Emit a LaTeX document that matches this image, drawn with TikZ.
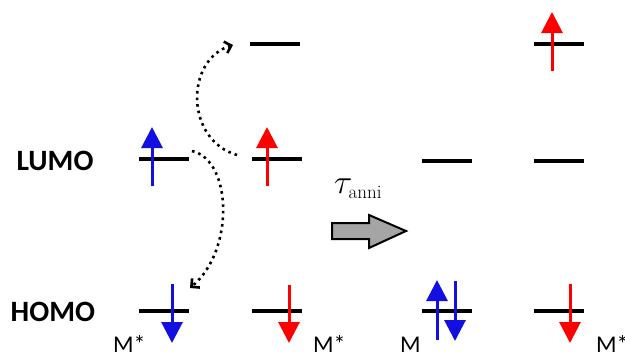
\documentclass[tikz,border=0pt]{standalone}
\usepackage{fix-cm}
\usepackage[no-math]{fontspec}
\setmainfont{Carlito}
\newfontfamily\lmroman{Latin Modern Roman}
\usetikzlibrary{arrows.meta}
\definecolor{spinblue}{RGB}{20,15,225}
\definecolor{spinred}{RGB}{255,0,0}
\definecolor{blockgray}{RGB}{165,165,165}
\begin{document}
\begin{tikzpicture}[x=1pt,y=-1pt,
  level/.style={rectangle,fill=black,minimum width=50pt,minimum height=3.5pt,inner sep=0pt},
  spin/.style={line width=3pt,-{Triangle[width=21pt,length=21pt]}},
  bluespin/.style={spin,draw=spinblue,fill=spinblue},
  redspin/.style={spin,draw=spinred,fill=spinred},
  transfer/.style={line width=2.6pt,dash pattern=on 2.6pt off 4pt,-{Straight Barb[length=6pt,width=12pt]}},
  orblabel/.style={anchor=base west,inner sep=0pt,font=\fontsize{29.5}{31}\selectfont\bfseries},
  molabel/.style={anchor=base west,inner sep=0pt,font=\fontsize{24}{26}\selectfont}]
\useasboundingbox (0,0) rectangle (625,354);
% levels
\node[level] (aL) at (164,159) {};
\node[level] (aH) at (164,311) {};
\node[level] (bU) at (275,44) {};
\node[level] (bL) at (277,159) {};
\node[level] (bH) at (277,311) {};
\node[level] (cL) at (447,161) {};
\node[level] (cH) at (447,311) {};
\node[level] (dU) at (559,44) {};
\node[level] (dL) at (559,161) {};
\node[level] (dH) at (559,311) {};
% labels
\node[orblabel] (lumo) at (16.5,170) {LUMO};
\node[orblabel] (homo) at (10.5,321) {HOMO};
\node[molabel] (m1) at (113,352) {M*};
\node[molabel] (m2) at (313,352) {M*};
\node[molabel] (m3) at (400,352) {M};
\node[molabel] (m4) at (596,352) {M*};
\node[anchor=base west,inner sep=0pt,font=\fontsize{34}{36}\selectfont] (tau) at (334,193)
  {$\tau_{\hbox{\fontsize{19}{20}\selectfont\lmroman anni}}$};
% spins
\draw[bluespin] (152,186) -- (152,127);
\draw[redspin] (267,186) -- (267,127);
\draw[bluespin] (172,284) -- (172,343);
\draw[redspin] (289,285) -- (289,343);
\draw[bluespin] (437,340) -- (437,280);
\draw[bluespin] (455,281) -- (455,341);
\draw[redspin] (570,284) -- (570,343);
\draw[redspin] (552,71) -- (552,12);
% transfers
\coordinate (s1) at (237,155);
\coordinate (e1) at (233,45);
\coordinate (s2) at (192,151);
\coordinate (e2) at (190,288);
\draw[transfer] (s1) .. controls (185,140) and (185,60) .. (e1);
\draw[transfer] (s2) .. controls (232,160) and (235,250) .. (e2);
% block arrow
\draw[line width=2pt,fill=blockgray,line join=miter]
  (332,223) -- (369,223) -- (369,215) -- (406,231) -- (369,248) -- (369,239) -- (332,239) -- cycle;
\end{tikzpicture}
\end{document}
